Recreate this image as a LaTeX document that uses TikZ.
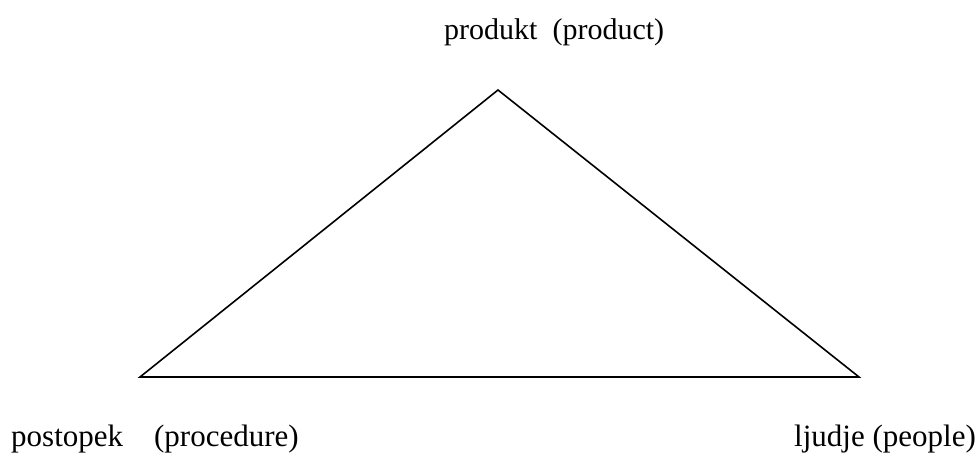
\documentclass[tikz,border=0pt]{standalone}
\usepackage{fontspec}
\setmainfont{Liberation Serif}
\begin{document}
\begin{tikzpicture}[x=1pt,y=-1pt,
  lbl/.style={inner sep=0pt,font=\fontsize{30}{34}\selectfont},
  lblb/.style={inner sep=0pt,font=\fontsize{31}{35}\selectfont},
  edge/.style={line width=1.6pt,line join=miter}]
\useasboundingbox (0,0) rectangle (977,455);
\coordinate (top) at (498,90);
\coordinate (left) at (140,377);
\coordinate (right) at (859,377);
\draw[edge] (top) -- (left) -- (right) -- cycle;
\node[lbl,anchor=base west] (tp) at (444,39) {produkt\ \ (product)};
\node[lblb,anchor=base west] (lp) at (11,446) {postopek\ \ \ \ (procedure)};
\node[lblb,anchor=base east] (rp) at (976,446) {ljudje (people)};
\end{tikzpicture}
\end{document}
